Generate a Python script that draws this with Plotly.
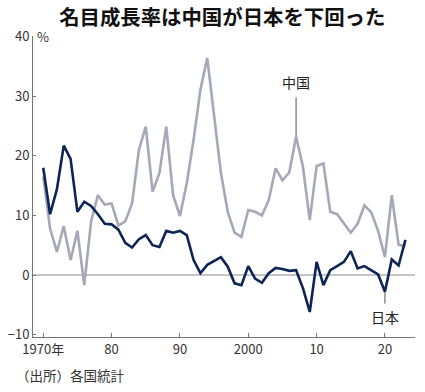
import plotly.graph_objects as go

years = list(range(1970, 2024))
japan = [18.0, 10.2, 14.4, 21.7, 19.5, 10.6, 12.3, 11.6, 10.2, 8.6,
         8.5, 7.6, 5.4, 4.6, 6.0, 6.7, 5.0, 4.7, 7.4, 7.1,
         7.4, 6.7, 2.5, 0.3, 1.7, 2.4, 3.0, 1.4, -1.4, -1.7,
         1.5, -0.6, -1.3, 0.3, 1.2, 1.0, 0.7, 0.8, -2.2, -6.2,
         2.2, -1.7, 0.8, 1.5, 2.2, 4.0, 1.1, 1.5, 0.8, 0.1,
         -2.8, 2.6, 1.6, 5.9]
china = [16.5, 7.8, 3.9, 8.2, 2.5, 7.4, -1.7, 9.0, 13.4, 11.8,
         12.0, 8.3, 9.0, 12.0, 21.0, 24.9, 14.0, 17.1, 24.9, 13.4,
         9.9, 15.4, 22.7, 31.1, 36.4, 26.6, 17.1, 10.6, 7.1, 6.4,
         10.9, 10.6, 10.0, 12.6, 17.9, 15.9, 17.2, 23.2, 18.2, 9.2,
         18.3, 18.7, 10.6, 10.2, 8.7, 7.1, 8.6, 11.7, 10.5, 7.4,
         3.0, 13.4, 5.1, 4.8]
tick_vals = [1970, 1980, 1990, 2000, 2010, 2020]
tick_text = ["1970年", "80", "90", "2000", "10", "20"]
y_ticks = [-10, 0, 10, 20, 30, 40]

FONT = "Noto Sans CJK JP"

fig = go.Figure()
fig.add_trace(go.Scatter(x=years, y=china, mode="lines",
                         line=dict(color="#a5a8b8", width=2.6), name="中国"))
fig.add_trace(go.Scatter(x=years, y=japan, mode="lines",
                         line=dict(color="#0c2556", width=2.6), name="日本"))

# zero line
fig.add_shape(type="line", xref="paper", yref="y", x0=0, x1=1, y0=0, y1=0,
              line=dict(color="#8a8a8a", width=1), layer="below")

# leader lines
i07 = years.index(2007)
fig.add_shape(type="line", xref="x", yref="y", x0=2007, x1=2007,
              y0=china[i07], y1=29.8, line=dict(color="#555", width=1))
i20 = years.index(2020)
fig.add_shape(type="line", xref="x", yref="y", x0=2020, x1=2020,
              y0=japan[i20], y1=-4.8, line=dict(color="#555", width=1))

fig.add_annotation(x=2007, y=32.3, xref="x", yref="y", text="中国", showarrow=False,
                   font=dict(family=FONT, size=14, color="#222"))
fig.add_annotation(x=2020, y=-7.0, xref="x", yref="y", text="日本", showarrow=False,
                   font=dict(family=FONT, size=14, color="#222"))
fig.add_annotation(x=0.005, y=40, xref="paper", yref="y", text="%", showarrow=False,
                   xanchor="left", font=dict(family=FONT, size=13, color="#333"))
fig.add_annotation(x=-0.05, y=-0.125, xref="paper", yref="paper", text="（出所）各国統計",
                   showarrow=False, xanchor="left", yanchor="middle",
                   font=dict(family=FONT, size=13.5, color="#333"))

fig.update_layout(
    width=425, height=392,
    margin=dict(l=33, r=10, t=36, b=55, autoexpand=False),
    paper_bgcolor="white", plot_bgcolor="white",
    showlegend=False,
    font=dict(family=FONT, color="#333"),
    title=dict(text="<b>名目成長率は中国が日本を下回った</b>", x=0.523, xanchor="center",
               y=0.955, yanchor="middle",
               font=dict(family=FONT, size=20.4, color="#111")),
    xaxis=dict(range=[1968.5, 2024.4], tickvals=tick_vals, ticktext=tick_text,
               showgrid=False, zeroline=False, showline=True, linecolor="#777",
               linewidth=1, ticks="inside", ticklen=4, tickcolor="#777",
               automargin=False,
               tickfont=dict(family=FONT, size=13, color="#333")),
    yaxis=dict(range=[-10.4, 40.1], tickvals=y_ticks, showgrid=False, zeroline=False,
               showline=True, linecolor="#777", linewidth=1, ticks="inside",
               ticklen=3, tickcolor="#777", automargin=False,
               tickfont=dict(family=FONT, size=13, color="#333")),
)

fig.write_html("out.html", config={"displayModeBar": False},
               post_script="document.body.style.margin='0';document.body.style.overflow='hidden';")
